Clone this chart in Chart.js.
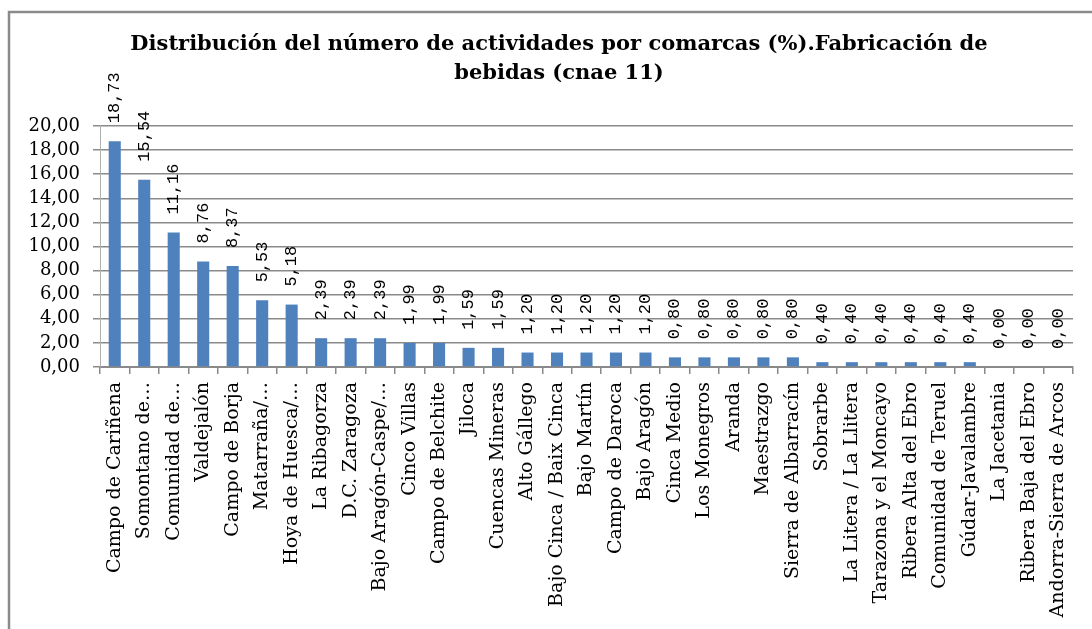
<!DOCTYPE html>
<html>
<head>
<meta charset="utf-8">
<script src="https://cdn.jsdelivr.net/npm/chart.js@4/dist/chart.umd.min.js"></script>
<style>
  html, body { margin: 0; padding: 0; background: #fff; }
  #wrap { position: relative; width: 1092px; height: 629px; }
</style>
</head>
<body>
<div id="wrap"><canvas id="c" width="1092" height="629"></canvas></div>
<script>
const titleLines = [
  'Distribución del número de actividades por comarcas (%).Fabricación de',
  'bebidas (cnae 11)'
];
const comarcas = [
  'Campo de Cariñena', 'Somontano de…', 'Comunidad de…', 'Valdejalón', 'Campo de Borja',
  'Matarraña/…', 'Hoya de Huesca/…', 'La Ribagorza', 'D.C. Zaragoza', 'Bajo Aragón-Caspe/…',
  'Cinco Villas', 'Campo de Belchite', 'Jiloca', 'Cuencas Mineras', 'Alto Gállego',
  'Bajo Cinca / Baix Cinca', 'Bajo Martín', 'Campo de Daroca', 'Bajo Aragón', 'Cinca Medio',
  'Los Monegros', 'Aranda', 'Maestrazgo', 'Sierra de Albarracín', 'Sobrarbe',
  'La Litera / La Llitera', 'Tarazona y el Moncayo', 'Ribera Alta del Ebro', 'Comunidad de Teruel', 'Gúdar-Javalambre',
  'La Jacetania', 'Ribera Baja del Ebro', 'Andorra-Sierra de Arcos'
];
const porcentajes = [
  18.73, 15.54, 11.16, 8.76, 8.37,
  5.53, 5.18, 2.39, 2.39, 2.39,
  1.99, 1.99, 1.59, 1.59, 1.20,
  1.20, 1.20, 1.20, 1.20, 0.80,
  0.80, 0.80, 0.80, 0.80, 0.40,
  0.40, 0.40, 0.40, 0.40, 0.40,
  0.00, 0.00, 0.00
];
const yMin = 0, yMax = 20, yStep = 2;

const fmt = v => Number(v).toFixed(2).replace('.', ',');

const frame = {
  id: 'frame',
  afterDraw(chart) {
    const ctx = chart.ctx;
    ctx.save();
    ctx.strokeStyle = '#8a8a8a';
    ctx.lineWidth = 2.5;
    ctx.beginPath();
    ctx.moveTo(9, 629);
    ctx.lineTo(9, 12);
    ctx.lineTo(1092, 12);
    ctx.stroke();
    ctx.restore();
  }
};

const barLabels = {
  id: 'barLabels',
  afterDatasetsDraw(chart) {
    const ctx = chart.ctx;
    const meta = chart.getDatasetMeta(0);
    ctx.save();
    ctx.font = '17px "Liberation Mono", monospace';
    ctx.fillStyle = '#000';
    ctx.textAlign = 'left';
    ctx.textBaseline = 'middle';
    meta.data.forEach((bar, i) => {
      ctx.save();
      ctx.translate(bar.x, bar.y - 18);
      ctx.rotate(-Math.PI / 2);
      ctx.fillText(fmt(chart.data.datasets[0].data[i]), 0, 0);
      ctx.restore();
    });
    ctx.restore();
  }
};

new Chart(document.getElementById('c'), {
  type: 'bar',
  data: {
    labels: comarcas,
    datasets: [{
      data: porcentajes,
      backgroundColor: '#4f81bd',
      borderWidth: 0,
      categoryPercentage: 1,
      barPercentage: 0.41
    }]
  },
  options: {
    responsive: false,
    animation: false,
    layout: { padding: { left: 26, right: 0, top: 0, bottom: 0 } },
    plugins: {
      legend: { display: false },
      tooltip: { enabled: false },
      title: {
        display: true,
        text: titleLines,
        color: '#000',
        font: { family: '"DejaVu Serif", serif', size: 21, weight: 'bold', lineHeight: 1.38 },
        padding: { top: 30, bottom: 38 }
      }
    },
    scales: {
      x: {
        grid: { display: true, drawOnChartArea: false, drawTicks: true, tickLength: 7, color: '#8a8a8a', lineWidth: 1.5, offset: true },
        border: { display: true, color: '#8a8a8a', width: 2 },
        ticks: {
          autoSkip: false, maxRotation: 90, minRotation: 90, padding: 8,
          color: '#000',
          font: { family: '"DejaVu Serif", serif', size: 19 }
        },
        afterFit(scale) { scale.height = 629 - 367; }
      },
      y: {
        min: yMin, max: yMax,
        grid: { color: '#8a8a8a', lineWidth: 1.5, tickLength: 7 },
        border: { display: true, color: '#b0b0b0', width: 1 },
        ticks: {
          stepSize: yStep, autoSkip: false, padding: 13, color: '#000',
          font: { family: '"DejaVu Serif", serif', size: 18 },
          callback: v => fmt(v)
        },
        afterFit(scale) { scale.width = 100 - 26; }
      },
      yRight: {
        position: 'right',
        display: true,
        grid: { display: false },
        border: { display: false },
        ticks: { display: false },
        afterFit(scale) { scale.width = 1092 - 1073; }
      }
    }
  },
  plugins: [barLabels, frame]
});
</script>
</body>
</html>
